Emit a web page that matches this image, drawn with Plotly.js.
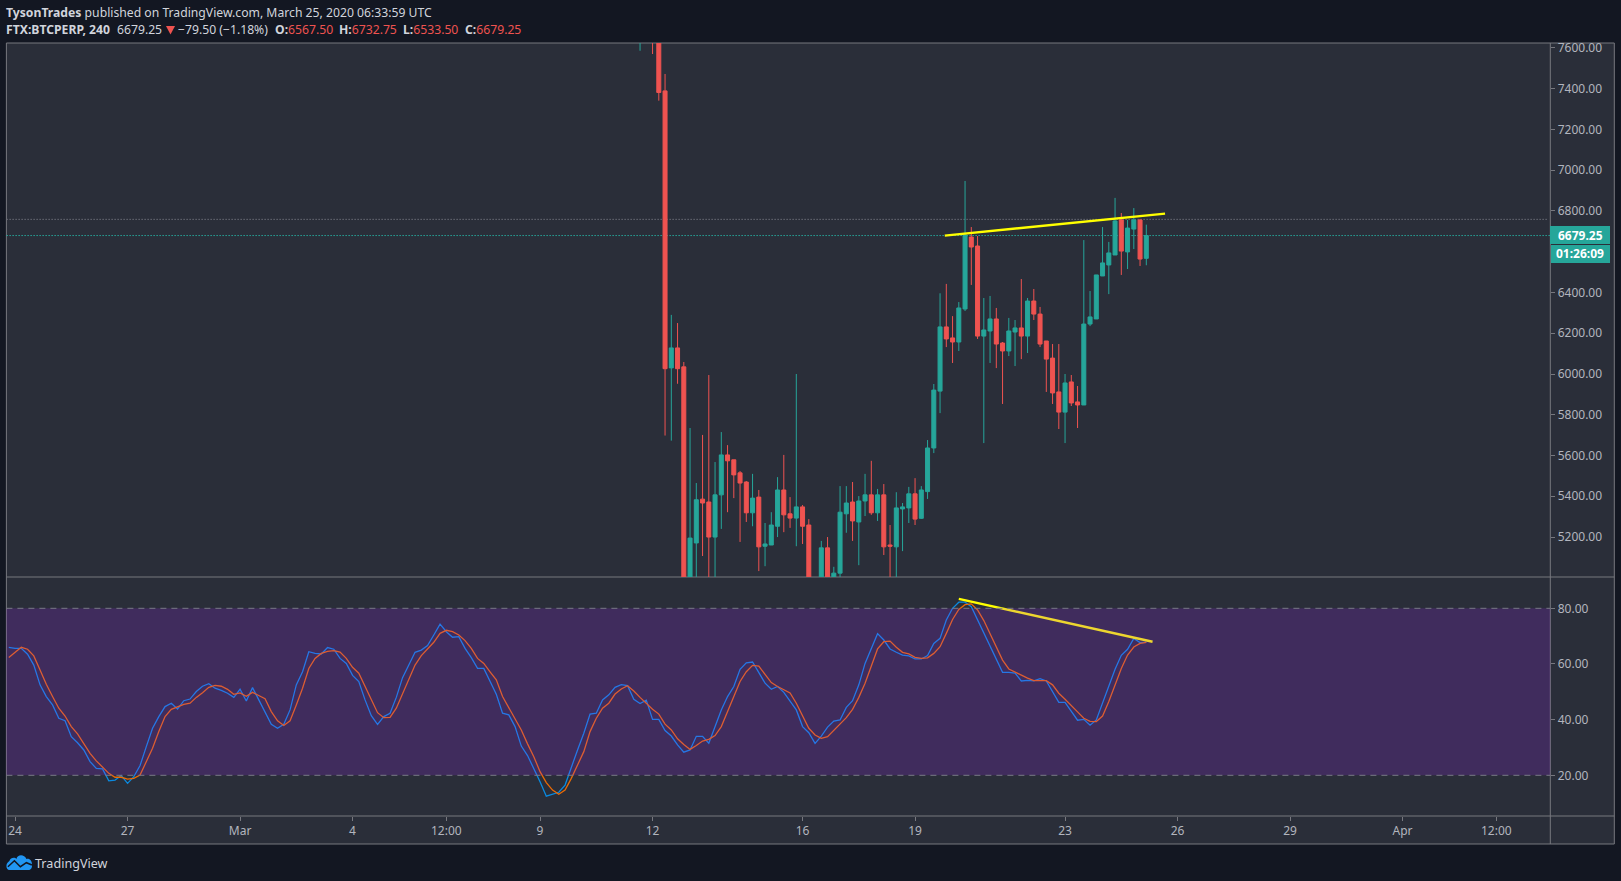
<!DOCTYPE html>
<html><head><meta charset="utf-8">
<script src="https://cdn.plot.ly/plotly-3.0.1.min.js"></script>
<style>html,body{margin:0;padding:0;background:#131722;overflow:hidden}#c{width:1621px;height:881px}</style>
</head><body><div id="c"></div>
<script>
// ---- data ----
const candleStart = "2020-03-11T16:00:00Z";
const oscStart = "2020-02-23T20:00:00Z";
const open  = [7700,7800,7850,7700,7389,6030,6128,6035,4850,5171,5386,5372,5200,5407,5603,5579,5515,5470,5319,5396,5155,5161,5253,5431,5314,5293,5348,5259,4950,4900,5147,4960,5023,5314,5372,5274,5377,5407,5319,5407,5161,5152,5338,5343,5412,5292,
 5423,5637,5916,6231,6177,6157,6319,6672,6628,6186,6211,6270,6152,6113,6206,6226,6186,6358,6294,6162,6078,5912,5813,5961,5863,5848,6245,6270,6481,6535,6584,6756,6599,6711,6756,6567.5];
const high  = [7900,7950,7900,7750,7472,6290,6250,6059,5735,5465,5701,5995,5568,5715,5651,5579,5524,5475,5510,5431,5269,5322,5494,5603,5396,6000,5357,5288,4990,5181,5200,5054,5450,5450,5470,5401,5510,5574,5436,5460,5259,5420,5367,5446,5489,5450,
 5676,5951,6396,6442,6284,6353,6947,6721,6677,6373,6383,6324,6157,6275,6265,6466,6373,6417,6329,6162,6147,6147,6000,5995,5941,6657,6407,6486,6721,6648,6864,6790,6756,6814,6759,6732.75];
const low   = [7586,7700,7570,7341,5698,5673,5952,4700,4800,4950,5107,4950,4950,5240,5322,5391,5176,5274,5253,5033,5057,5161,5200,5224,5245,5155,5166,4900,4850,4860,4900,4900,4950,5221,5181,5062,5303,5309,5279,5112,4950,4950,5131,5269,5259,5289,
 5387,5612,5808,6132,6054,6113,6309,6437,6172,5661,6054,6029,5853,6088,6039,6073,6103,6265,6132,5912,5853,5730,5661,5843,5735,5848,6235,6270,6481,6392,6584,6486,6515,6613,6530,6533.5];
const close = [7800,7850,7700,7381,6026,6128,6026,4850,5195,5383,5367,5200,5407,5603,5574,5505,5465,5319,5391,5152,5166,5259,5431,5309,5293,5348,5253,4950,4900,5147,4960,5023,5322,5367,5279,5377,5407,5319,5407,5152,5155,5343,5348,5412,5288,5431,
 5637,5921,6231,6172,6157,6324,6682,6623,6186,6216,6270,6147,6113,6211,6226,6186,6358,6294,6147,6073,5907,5813,5956,5858,5848,6245,6280,6486,6545,6594,6751,6603,6716,6756,6564,6679.25];
const stochK = [66.0,65.6,65.6,63.5,59.6,52.5,48.3,45.3,40.5,39.6,33.9,31.7,29.1,24.9,22.5,22.3,18.0,18.3,19.9,17.1,19.5,23.5,30.3,36.9,41.1,44.7,45.9,43.8,46.8,47.4,50.1,52.0,52.9,51.3,50.5,49.5,48.0,50.9,46.7,51.5,47.1,42.6,38.3,36.9,38.3,
 43.5,52.5,57.2,64.4,63.8,63.6,65.9,65.3,62.0,60.2,55.9,53.7,47.1,41.4,38.3,41.1,42.3,48.0,55.1,59.6,64.2,65.0,66.6,70.4,74.3,71.6,69.6,69.8,65.6,62.3,58.4,58.4,53.7,49.1,42.3,41.7,37.5,30.5,27.1,22.5,17.7,12.5,13.2,13.9,16.5,23.1,29.1,35.1,42.0,
 42.3,47.1,48.9,51.6,52.6,52.2,47.3,45.8,47.0,40.1,40.1,36.1,34.1,30.9,28.3,29.1,34.0,34.0,31.5,37.7,43.5,48.3,51.9,58.1,60.4,60.7,56.7,53.1,50.9,51.9,49.8,46.7,43.5,37.5,35.3,31.5,34.1,37.3,39.5,39.9,44.4,46.8,52.5,60.2,65.6,70.9,
 68.6,65.4,64.2,63.2,62.9,61.8,61.8,63.0,67.4,69.2,75.8,80.0,82.2,82.2,80.6,75.8,71.0,66.5,61.8,57.0,57.0,56.7,53.9,54.1,53.9,54.7,53.9,50.1,46.2,46.2,42.9,39.8,40.1,38.0,39.9,45.9,51.9,58.1,63.1,65.3,69.2,67.7,67.8];
const stochD = [62.3,64.1,66.0,65.3,62.9,57.8,52.7,48.3,44.1,41.3,37.5,34.9,31.3,27.9,25.2,23.1,20.7,19.3,19.3,18.6,18.9,20.1,24.9,29.7,35.7,41.1,43.7,44.7,45.5,45.9,48.0,49.7,51.6,52.3,52.0,50.9,49.1,49.6,48.4,49.8,48.6,47.5,42.9,39.6,37.9,
 39.6,45.3,51.3,58.4,62.0,63.8,64.5,64.8,64.3,62.0,58.8,56.7,51.9,47.1,42.5,40.7,40.8,44.1,49.5,54.9,59.6,63.0,65.6,67.8,71.0,72.1,71.6,70.4,68.4,65.6,62.0,60.2,57.2,54.3,48.3,44.4,40.5,36.3,31.3,26.7,21.3,17.4,14.7,13.2,14.7,18.9,23.7,28.5,35.7,
 40.5,44.1,45.9,49.2,51.0,52.2,50.3,48.0,45.9,43.7,42.0,38.4,36.3,33.1,31.1,29.3,30.7,32.3,32.9,34.3,37.5,42.9,48.3,53.7,57.2,59.5,59.2,56.4,53.3,51.9,50.9,49.6,45.9,41.1,36.9,34.5,33.3,33.9,36.1,38.3,40.7,43.7,48.0,53.1,59.6,65.4,
 68.0,68.2,66.0,64.2,63.6,62.4,62.0,62.2,63.8,66.2,71.0,76.0,79.6,81.3,81.6,79.4,75.6,71.0,66.2,61.4,58.2,57.0,55.9,54.9,54.0,54.0,54.0,52.5,49.5,47.3,45.2,42.8,40.5,39.4,39.3,41.3,46.5,52.5,58.4,63.2,66.1,67.4,67.8];
const priceTickVals = [5200,5400,5600,5800,6000,6200,6400,6600,6800,7000,7200,7400,7600];
const oscTickVals = [20,40,60,80];
const timeTickVals = ["2020-02-24","2020-02-27","2020-03-01","2020-03-04","2020-03-06 12:00","2020-03-09","2020-03-12","2020-03-16","2020-03-19","2020-03-23","2020-03-26","2020-03-29","2020-04-01","2020-04-03 12:00"];
const timeTickText = ["24","27","Mar","4","12:00","9","12","16","19","23","26","29","Apr","12:00"];
const priceTrendX = ["2020-03-19 19:00","2020-03-25 16:00"];
const priceTrendY = [6679,6787];
const oscTrendX = ["2020-03-20 04:00","2020-03-25 08:00"];
const oscTrendY = [83.4,68.0];
const lastPrice = 6679.25, prevClose = 6758.75;

// ---- page geometry and styles ----
const W=1621,H=881;
const L=6.4,R=1550.3,FR=1614.3,T=43,M=577,B=816,FB=844;
const BG="#131722",PANE="#2a2e39",FRAME="#77787f",UP="#26a69a",DN="#ef5350";
const FONT='"Noto Sans","Open Sans",sans-serif';
const px=x=>x/W, py=y=>1-y/H;
const times=(s,n)=>Array.from({length:n},(_,i)=>new Date(Date.parse(s)+i*4*3600e3).toISOString());
const pline=(x0,y0,x1,y1,c,w)=>({type:"line",xref:"paper",yref:"paper",x0:px(x0),x1:px(x1),y0:py(y0),y1:py(y1),layer:"below",line:{color:c||FRAME,width:w||1}});
const proj=(id)=>({type:"rect",xref:"paper",yref:"paper",x0:px(id[0]),x1:px(id[2]),y0:py(id[1]),y1:py(id[3]),fillcolor:UP,line:{width:0},layer:"above"});

const traces=[
 {type:"candlestick",x:times(candleStart,open.length),open,high,low,close,xaxis:"x",yaxis:"y",
  increasing:{line:{color:UP,width:1},fillcolor:UP},decreasing:{line:{color:DN,width:1},fillcolor:DN},whiskerwidth:0,hoverinfo:"skip"},
 {type:"scatter",mode:"lines",x:priceTrendX,y:priceTrendY,xaxis:"x",yaxis:"y",line:{color:"#ffff00",width:2.4},hoverinfo:"skip"},
 {type:"scatter",mode:"lines",x:times(oscStart,stochK.length),y:stochK,xaxis:"x",yaxis:"y2",line:{color:"#0a8ae0",width:1.3},hoverinfo:"skip"},
 {type:"scatter",mode:"lines",x:times(oscStart,stochD.length),y:stochD,xaxis:"x",yaxis:"y2",line:{color:"#ea6a05",width:1.3},hoverinfo:"skip"},
 {type:"scatter",mode:"lines",x:oscTrendX,y:oscTrendY,xaxis:"x",yaxis:"y2",line:{color:"#ffff00",width:2.4},hoverinfo:"skip"}
];

const shapes=[
 {type:"rect",xref:"paper",yref:"paper",x0:px(L),x1:px(FR),y0:py(T),y1:py(FB),fillcolor:PANE,line:{color:FRAME,width:1},layer:"below"},
 pline(L,M,FR,M), pline(L,B,FR,B), pline(R,T,R,FB),
 {type:"rect",xref:"paper",yref:"y2",x0:px(L),x1:px(R),y0:20,y1:80,fillcolor:"rgba(160,36,250,0.19)",line:{width:0},layer:"above"},
 {type:"line",xref:"paper",yref:"y2",x0:px(L),x1:px(R),y0:80,y1:80,line:{color:"#787b86",width:1,dash:"6px,5px"},layer:"above"},
 {type:"line",xref:"paper",yref:"y2",x0:px(L),x1:px(R),y0:20,y1:20,line:{color:"#787b86",width:1,dash:"6px,5px"},layer:"above"},
 {type:"line",xref:"paper",yref:"y",x0:px(L),x1:px(R-3),y0:prevClose,y1:prevClose,line:{color:"#6b6e78",width:1,dash:"1.5px,1.5px"},layer:"below"},
 {type:"line",xref:"paper",yref:"y",x0:px(L),x1:px(R),y0:lastPrice,y1:lastPrice,line:{color:UP,width:1,dash:"1.5px,1.5px"},layer:"below"},
 proj([1550,226,1610,244]), proj([1551,245,1610,263]),
 pline(1550,235,1554,235,"#ffffff",1),
 {type:"path",xref:"paper",yref:"paper",xsizemode:"pixel",ysizemode:"pixel",xanchor:px(166),yanchor:py(34.5),layer:"above",
  path:"M0,8.5 L9,8.5 L4.5,0 Z",fillcolor:DN,line:{width:0}},
 {type:"path",xref:"paper",yref:"paper",xsizemode:"pixel",ysizemode:"pixel",xanchor:px(6.4),yanchor:py(870),layer:"above",
  path:"M0,4 C0,7 2,8 3,9 C4,13 9,13 10,11 C11,16 18,16 20,11 C23,12 26,9 25.6,5 C26,2 24,0 22,0 L3,0 C1,0 0,2 0,4 Z",fillcolor:"#2196f3",line:{width:0}},
 {type:"path",xref:"paper",yref:"paper",xsizemode:"pixel",ysizemode:"pixel",xanchor:px(6.4),yanchor:py(870),layer:"above",
  path:"M1.5,3.3 L8,9.3 L14,3.3 L20,7.3 L25.5,5",line:{color:"#131722",width:1.5}}
];

const ann=(x,y,text,o)=>Object.assign({xref:"paper",yref:"paper",x:px(x),y:py(y),xanchor:"left",yanchor:"middle",showarrow:false,align:"left",borderpad:0,borderwidth:0,text,font:{family:FONT,size:12.2,color:"#d1d4dc"}},o||{});
const red=t=>`<span style="color:#ef5350">${t}</span>`;
const annotations=[
 ann(6,12,"<b>TysonTrades</b> published on TradingView.com, March 25, 2020 06:33:59 UTC"),
 ann(6,30,"<b>FTX:BTCPERP, 240</b>"),
 ann(116.5,30,"6679.25"),
 ann(178,30,"−79.50 (−1.18%)"),
 ann(275,30,"<b>O:</b>"+red("6567.50")),
 ann(339,30,"<b>H:</b>"+red("6732.75")),
 ann(403,30,"<b>L:</b>"+red("6533.50")),
 ann(465.5,30,"<b>C:</b>"+red("6679.25")),
 ann(1580,235,"<b>6679.25</b>",{xanchor:"center",font:{family:FONT,size:12,color:"#ffffff"}}),
 ann(1580,254,"<b>01:26:09</b>",{xanchor:"center",font:{family:FONT,size:12,color:"#ffffff"}}),
 ann(34.5,863,"TradingView",{font:{family:FONT,size:12.6,color:"#d1d4dc"}})
];

const tickfont={family:FONT,size:12,color:"#b2b5be"};
const layout={
 width:W,height:H,margin:{l:0,r:0,t:0,b:0},paper_bgcolor:BG,plot_bgcolor:"rgba(0,0,0,0)",showlegend:false,
 boxgap:0.36,boxgroupgap:0,dragmode:false,hovermode:false,
 xaxis:{domain:[px(L),px(R)],type:"date",range:["2020-02-23 18:28","2020-04-04 22:33"],anchor:"y2",
   tickmode:"array",tickvals:timeTickVals,ticktext:timeTickText,ticks:"outside",ticklen:4,tickcolor:FRAME,tickfont,showgrid:false,zeroline:false,showline:false,rangeslider:{visible:false},fixedrange:true},
 yaxis:{domain:[py(M),py(T)],range:[5004,7624],side:"right",anchor:"x",tickmode:"array",tickvals:priceTickVals,tickformat:".2f",ticks:"outside",ticklen:4,tickcolor:FRAME,tickfont,showgrid:false,zeroline:false,showline:false,fixedrange:true},
 yaxis2:{domain:[py(B),py(M)],range:[5.38,91.25],side:"right",anchor:"x",tickmode:"array",tickvals:oscTickVals,tickformat:".2f",ticks:"outside",ticklen:4,tickcolor:FRAME,tickfont,showgrid:false,zeroline:false,showline:false,fixedrange:true},
 shapes,annotations
};
Plotly.newPlot("c",traces,layout,{displayModeBar:false,staticPlot:true});
</script></body></html>
